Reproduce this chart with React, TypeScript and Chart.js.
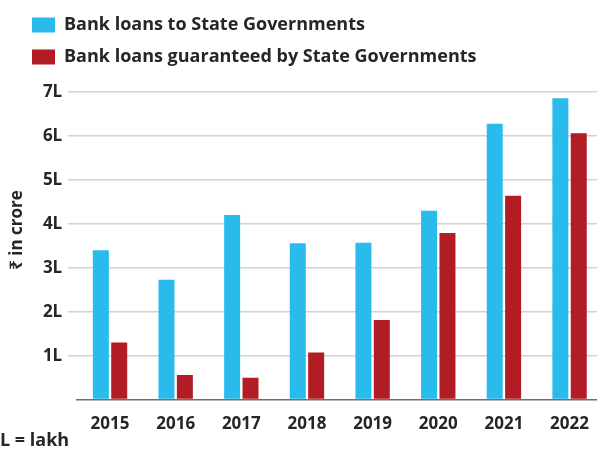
import React, { useEffect, useRef } from "react";
import { Chart, registerables } from "chart.js";

Chart.register(...registerables);

const years = ["2015", "2016", "2017", "2018", "2019", "2020", "2021", "2022"];
const loansToStates = [3.40, 2.73, 4.20, 3.56, 3.57, 4.30, 6.28, 6.86];
const loansGuaranteed = [1.30, 0.56, 0.50, 1.07, 1.81, 3.79, 4.64, 6.06];
const seriesLabels = [
  "Bank loans to State Governments",
  "Bank loans guaranteed by State Governments",
];
const seriesColors = ["#28bbec", "#b21c24"];
const yTickValues = [0, 1, 2, 3, 4, 5, 6, 7];
const yTickSuffix = "L";
const yAxisTitle = "₹ in crore";
const footNote = "L = lakh";

const FONT = "'Open Sans', 'Noto Sans', sans-serif";
const TEXT = "#262626";

const legendSpacer = {
  id: "legendSpacer",
  beforeLayout(chart: any) {
    const legend = chart.legend;
    if (legend && !legend.__patched) {
      const fit = legend.fit;
      legend.fit = function () {
        fit.call(this);
        this.height += 16;
      };
      legend.__patched = true;
    }
  },
};

const extraText = {
  id: "extraText",
  afterDraw(chart: any) {
    const ctx = chart.ctx;
    ctx.save();
    ctx.fillStyle = TEXT;
    ctx.font = `700 17px ${FONT}`;
    ctx.textAlign = "center";
    ctx.textBaseline = "middle";
    ctx.translate(17, 230);
    ctx.rotate(-Math.PI / 2);
    ctx.fillText(yAxisTitle, 0, 0);
    ctx.restore();

    ctx.save();
    ctx.fillStyle = TEXT;
    ctx.font = `700 18px ${FONT}`;
    ctx.textAlign = "left";
    ctx.textBaseline = "middle";
    ctx.fillText(footNote, 0, 441);
    ctx.restore();
  },
};

export default function App() {
  const ref = useRef<HTMLCanvasElement | null>(null);

  useEffect(() => {
    document.body.style.margin = "0";
    document.body.style.overflow = "hidden";
    const canvas = ref.current;
    if (!canvas) return;
    const chart = new Chart(canvas, {
      type: "bar",
      data: {
        labels: years,
        datasets: [
          {
            label: seriesLabels[0],
            data: loansToStates,
            backgroundColor: seriesColors[0],
            barPercentage: 0.87,
            categoryPercentage: 0.56,
          },
          {
            label: seriesLabels[1],
            data: loansGuaranteed,
            backgroundColor: seriesColors[1],
            barPercentage: 0.87,
            categoryPercentage: 0.56,
          },
        ],
      },
      options: {
        responsive: false,
        animation: false,
        devicePixelRatio: 1,
        layout: { padding: { left: 18, top: 2, right: 0, bottom: 11 } },
        plugins: {
          legend: {
            display: true,
            position: "top",
            align: "start",
            labels: {
              boxWidth: 23,
              boxHeight: 15,
              padding: 14,
              color: TEXT,
              font: { family: FONT, size: 18, weight: "700" },
            },
          },
          tooltip: { enabled: false },
          title: { display: false },
        },
        scales: {
          x: {
            grid: { display: false, drawTicks: false },
            border: { display: true, color: "#6e6e6e", width: 1.5 },
            ticks: {
              color: TEXT,
              padding: 14,
              font: { family: FONT, size: 17, weight: "700" },
              maxRotation: 0,
            },
          },
          y: {
            min: 0,
            max: 7,
            afterFit(scale: any) {
              scale.width = 59.2;
            },
            afterBuildTicks(scale: any) {
              scale.ticks = yTickValues.map((v) => ({ value: v }));
            },
            border: { display: false },
            grid: {
              color: (c: any) => (c.tick && c.tick.value === 0 ? "rgba(0,0,0,0)" : "#d2d2d2"),
              lineWidth: 1.5,
              drawTicks: true,
              tickLength: 9,
            },
            ticks: {
              color: TEXT,
              padding: 6,
              font: { family: FONT, size: 17, weight: "700" },
              callback: (v: any) => (Number(v) === 0 ? "" : `${v}${yTickSuffix}`),
            },
          },
        },
      },
      plugins: [legendSpacer, extraText],
    });
    return () => chart.destroy();
  }, []);

  return (
    <div style={{ position: "relative", width: 597, height: 459, overflow: "hidden", background: "#fff" }}>
      <canvas ref={ref} width={603} height={459} style={{ display: "block", width: 603, height: 459 }} />
    </div>
  );
}
